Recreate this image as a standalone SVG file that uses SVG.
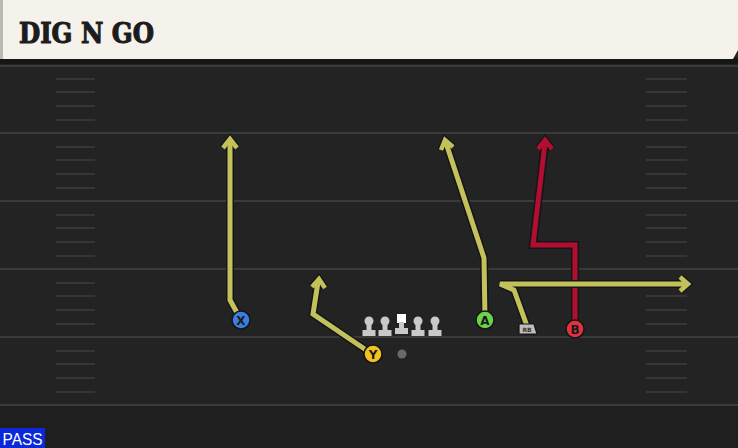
<svg xmlns="http://www.w3.org/2000/svg" width="738" height="448" viewBox="0 0 738 448">
<defs>
<style>
.yl{stroke:#3a3a3a;stroke-width:2}
.hm{stroke:#363636;stroke-width:2}
.out{fill:none;stroke:#14141a;stroke-width:8;stroke-linejoin:miter}
.ry{fill:none;stroke:#c3c15a;stroke-width:5;stroke-linejoin:miter}
.rr{fill:none;stroke:#b20f30;stroke-width:5;stroke-linejoin:miter}
.hy{fill:none;stroke:#c3c15a;stroke-width:4.5;stroke-linejoin:miter}
.hr{fill:none;stroke:#b20f30;stroke-width:4.5;stroke-linejoin:miter}
.ho{fill:none;stroke:#14141a;stroke-width:7;stroke-linejoin:miter}
.lbl{font-family:"DejaVu Sans","Liberation Sans",sans-serif;font-weight:bold;font-size:12px;fill:#1a1a1a;text-anchor:middle}
.pc{stroke:#151515;stroke-width:1.5}
.ol{fill:#c9c9c9}
</style>
</defs>
<rect width="738" height="448" fill="#232323"/>
<rect y="405" width="738" height="43" fill="#1f1f1f"/>
<g id="field">
<line class="yl" x1="0" y1="66" x2="738" y2="66"/>
<line class="yl" x1="0" y1="133" x2="738" y2="133"/>
<line class="yl" x1="0" y1="201" x2="738" y2="201"/>
<line class="yl" x1="0" y1="269" x2="738" y2="269"/>
<line class="yl" x1="0" y1="337" x2="738" y2="337"/>
<line class="yl" x1="0" y1="405" x2="738" y2="405"/>
<path class="hm" d="M56 79H95M56 92H95M56 106H95M56 120H95M56 147H95M56 160H95M56 174H95M56 188H95M56 215H95M56 228H95M56 242H95M56 256H95M56 283H95M56 296H95M56 310H95M56 324H95M56 351H95M56 364H95M56 378H95M56 392H95"/>
<path class="hm" d="M646 79H687M646 92H687M646 106H687M646 120H687M646 147H687M646 160H687M646 174H687M646 188H687M646 215H687M646 228H687M646 242H687M646 256H687M646 283H687M646 296H687M646 310H687M646 324H687M646 351H687M646 364H687M646 378H687M646 392H687"/>
</g>
<g id="header">
<rect x="0" y="58" width="738" height="6" fill="#161616"/>
<path d="M0 0H738V50L733 59H0Z" fill="#f5f2eb"/>
<rect x="0" y="0" width="3" height="59" fill="#b9b9b6"/>
<text x="19" y="43" font-family="DejaVu Serif Condensed, DejaVu Serif, serif" font-weight="bold" font-size="28" fill="#1c1c1c" stroke="#1c1c1c" stroke-width="1" textLength="135" lengthAdjust="spacingAndGlyphs">DIG N GO</text>
</g>
<g id="connectors">
<polyline class="out" points="241,320 230,300 230,142"/>
<path class="ho" d="M223,148 L230,139 L237,148"/>
<polyline class="ry" points="241,320 230,300 230,142"/>
<path class="hy" d="M223,148 L230,139 L237,148"/>
<polyline class="out" points="372,354 313,314 318,282"/>
<path class="ho" d="M312,287 L319,279 L325,288"/>
<polyline class="ry" points="372,354 313,314 318,282"/>
<path class="hy" d="M312,287 L319,279 L325,288"/>
<polyline class="out" points="485,320 484,258 446,143"/>
<path class="ho" d="M441,150 L445,140 L453,147"/>
<polyline class="ry" points="485,320 484,258 446,143"/>
<path class="hy" d="M441,150 L445,140 L453,147"/>
<polyline class="out" points="575,328 575,245 533,245 545,143"/>
<path class="ho" d="M538,149 L545,140 L552,149"/>
<polyline class="rr" points="575,328 575,245 533,245 545,143"/>
<path class="hr" d="M538,149 L545,140 L552,149"/>
<polyline class="out" points="527,326 514,290 500,284 685,284"/>
<path class="ho" d="M680,277 L688,284 L680,291"/>
<polyline class="ry" points="527,326 514,290 500,284 685,284"/>
<path class="hy" d="M680,277 L688,284 L680,291"/>
</g>
<g id="X"><circle class="pc" cx="241" cy="320" r="9" fill="#3b7de0"/><text class="lbl" x="241" y="324.5">X</text></g>
<g id="Y"><circle class="pc" cx="373" cy="354" r="9" fill="#f2c21e"/><text class="lbl" x="373" y="358.5">Y</text></g>
<g id="A"><circle class="pc" cx="485" cy="320" r="9" fill="#6bd24a"/><text class="lbl" x="485" y="324.5">A</text></g>
<g id="B"><circle class="pc" cx="575" cy="329" r="9" fill="#e0333f"/><text class="lbl" x="575" y="333.5">B</text></g>
<g id="RB"><path d="M519 324H534L537 334H519Z" fill="#bdbdbd" stroke="#151515" stroke-width="1.2" stroke-linejoin="round"/><text x="527" y="332" font-family="DejaVu Sans, sans-serif" font-weight="bold" font-size="6" fill="#333" text-anchor="middle">RB</text></g>
<g id="line">
<g id="LT"><circle class="ol" cx="369" cy="321" r="4.5"/><rect class="ol" x="366.5" y="321" width="5" height="10"/><rect class="ol" x="362.5" y="330" width="13" height="6"/></g>
<g id="LG"><circle class="ol" cx="385" cy="321" r="4.5"/><rect class="ol" x="382.5" y="321" width="5" height="10"/><rect class="ol" x="378.5" y="330" width="13" height="6"/></g>
<g id="C"><rect x="397" y="314" width="9" height="9" fill="#ffffff"/><rect class="ol" x="399" y="322" width="5" height="7"/><rect class="ol" x="395" y="328" width="13" height="6"/></g>
<g id="RG"><circle class="ol" cx="418" cy="321" r="4.5"/><rect class="ol" x="415.5" y="321" width="5" height="10"/><rect class="ol" x="411.5" y="330" width="13" height="6"/></g>
<g id="RT"><circle class="ol" cx="435" cy="321" r="4.5"/><rect class="ol" x="432.5" y="321" width="5" height="10"/><rect class="ol" x="428.5" y="330" width="13" height="6"/></g>
</g>
<g id="ball"><circle cx="402" cy="354" r="4.5" fill="#6a6a6a"/></g>
<g id="pass"><rect x="0" y="428" width="45" height="20" fill="#0a2ad8"/><text x="22.5" y="444.5" font-family="Liberation Sans, Arial, sans-serif" font-size="16" fill="#ffffff" text-anchor="middle" textLength="40" lengthAdjust="spacingAndGlyphs">PASS</text></g>
</svg>
